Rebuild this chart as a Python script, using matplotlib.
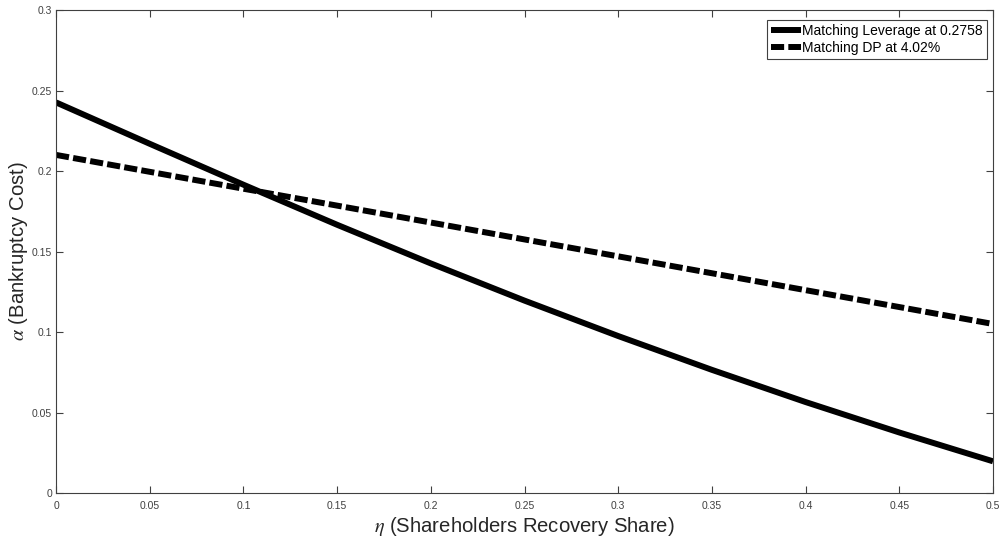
import matplotlib
matplotlib.use("Agg")
import matplotlib.pyplot as plt
import numpy as np

eta = [0.0, 0.05, 0.10, 0.15, 0.20, 0.25, 0.30, 0.35, 0.40, 0.45, 0.50]
alpha_lev = [0.2426, 0.2169, 0.1915, 0.1666, 0.1426, 0.1195, 0.0975, 0.0765, 0.0565, 0.0376, 0.0197]
alpha_dp = [0.210, 0.1995, 0.1890, 0.1785, 0.1680, 0.1575, 0.1470, 0.1365, 0.1260, 0.1155, 0.1050]

xticks = [0, 0.05, 0.1, 0.15, 0.2, 0.25, 0.3, 0.35, 0.4, 0.45, 0.5]
xticklabels = ["0", "0.05", "0.1", "0.15", "0.2", "0.25", "0.3", "0.35", "0.4", "0.45", "0.5"]
yticks = [0, 0.05, 0.1, 0.15, 0.2, 0.25, 0.3]
yticklabels = ["0", "0.05", "0.1", "0.15", "0.2", "0.25", "0.3"]

plt.rcParams['font.family'] = ['Liberation Sans', 'DejaVu Sans']
plt.rcParams['mathtext.fontset'] = 'stix'

fig = plt.figure(figsize=(9.99, 5.38), dpi=100)
ax = fig.add_axes([0.0561, 0.0836, 0.9379, 0.8978])

ax.plot(eta, alpha_lev, color='black', lw=4.3, solid_capstyle='butt',
        label='Matching Leverage at 0.2758')
ax.plot(eta, alpha_dp, color='black', lw=4.3, dashes=(2.2, 0.7), dash_capstyle='butt',
        label='Matching DP at 4.02%')

ax.set_xlim(0, 0.5)
ax.set_ylim(0, 0.3)
ax.set_xticks(xticks)
ax.set_xticklabels(xticklabels)
ax.set_yticks(yticks)
ax.set_yticklabels(yticklabels)

grey = '#404040'
for s in ax.spines.values():
    s.set_color(grey)
    s.set_linewidth(0.8)
ax.tick_params(direction='in', top=True, right=True, length=5, width=0.8,
               color=grey, labelcolor=grey, labelsize=7.5, pad=3)
ax.tick_params(axis='x', pad=5.5)

ax.set_xlabel(r'$\eta$ (Shareholders Recovery Share)', fontsize=14.6, color='#262626')
ax.set_ylabel(r'$\alpha$ (Bankruptcy Cost)', fontsize=14.6, color='#262626')
ax.xaxis.set_label_coords(0.5, -0.046)
ax.yaxis.set_label_coords(-0.028, 0.5)

leg = ax.legend(loc='upper right', bbox_to_anchor=(0.9936, 0.9793), borderaxespad=0,
                fontsize=10, frameon=True, fancybox=False,
                edgecolor=grey, framealpha=1, handlelength=2.16, handletextpad=0.1,
                borderpad=0.3, labelspacing=0.2)
leg.get_frame().set_linewidth(0.8)

fig.savefig('out.png', dpi=100)
